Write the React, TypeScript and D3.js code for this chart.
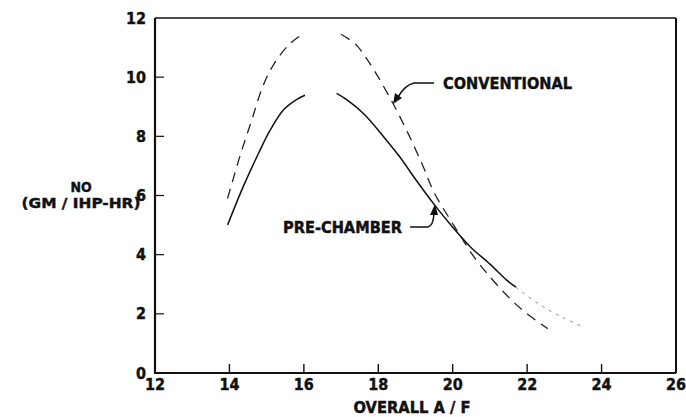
import React from "react";
import * as d3 from "d3";

const xTicks = [12, 14, 16, 18, 20, 22, 24, 26];
const yTicks = [0, 2, 4, 6, 8, 10, 12];

// Conventional (dashed) — null marks the faded gap near the peak
const convX = [13.95, 14.3, 14.6, 14.9, 15.2, 15.6, 15.9, 16.45, 17.0, 17.4, 17.7, 18.0, 18.4, 18.8, 19.2, 19.5, 19.9, 20.2, 20.5, 20.9, 21.45, 21.9, 22.55];
const convY = [5.9, 7.4, 8.55, 9.7, 10.45, 11.1, 11.4, null, 11.45, 11.1, 10.6, 10.0, 9.1, 8.1, 7.0, 6.1, 5.25, 4.65, 4.05, 3.4, 2.63, 2.1, 1.5];

// Pre-chamber (solid)
const preX = [13.95, 14.37, 14.78, 15.09, 15.45, 15.75, 16.03, 16.45, 16.88, 17.1, 17.6, 18.22, 18.58, 19.0, 19.5, 19.95, 20.47, 21.0, 21.45, 21.7];
const preY = [5.0, 6.3, 7.42, 8.2, 8.89, 9.2, 9.39, null, 9.45, 9.28, 8.77, 7.87, 7.3, 6.55, 5.7, 5.0, 4.27, 3.68, 3.14, 2.9];

// Pre-chamber faint tail
const tailX = [21.7, 22.35, 23.0, 23.5];
const tailY = [2.9, 2.3, 1.85, 1.56];

const W = 686;
const H = 417;
const L = 155, R = 676, T = 18, B = 373;
const FONT = "'Liberation Sans Narrow', 'DejaVu Sans Condensed', 'DejaVu Sans', sans-serif";

export default function App() {
  const x = d3.scaleLinear().domain([12, 26]).range([L, R]);
  const y = d3.scaleLinear().domain([0, 12]).range([B, T]);

  type P = { x: number; y: number | null };
  const mk = (xs: number[], ys: (number | null)[]): P[] => xs.map((v, i) => ({ x: v, y: ys[i] }));
  const line = d3
    .line<P>()
    .defined((d) => d.y !== null)
    .x((d) => x(d.x))
    .y((d) => y(d.y as number))
    .curve(d3.curveCatmullRom.alpha(0.5));

  const conv = line(mk(convX, convY)) || "";
  const pre = line(mk(preX, preY)) || "";
  const tail = line(mk(tailX, tailY)) || "";

  const txt = { fill: "#111", stroke: "#111", strokeWidth: 0.4 } as const;

  return (
    <svg
      width={W}
      height={H}
      style={{ position: "absolute", left: 0, top: 0, background: "#fff" }}
      fontFamily={FONT}
      fontWeight="bold"
    >
      <rect x={0} y={0} width={W} height={H} fill="#fff" />
      {/* frame */}
      <path d={`M${L},${T} L${R},${T}`} stroke="#111" strokeWidth={1.6} />
      <path d={`M${R},${T} L${R},${B}`} stroke="#111" strokeWidth={2} />
      <path d={`M${L},${T} L${L},${B} L${R},${B}`} stroke="#111" strokeWidth={2.2} fill="none" />

      {/* x ticks */}
      {xTicks.slice(1, -1).map((t) => (
        <line key={"xt" + t} x1={x(t)} x2={x(t)} y1={B} y2={B - 9} stroke="#111" strokeWidth={1.4} />
      ))}
      {xTicks.map((t) => (
        <text key={"xl" + t} x={x(t)} y={390} textAnchor="middle" fontSize={16} {...txt}>
          {t}
        </text>
      ))}
      {/* y ticks */}
      {yTicks.slice(1, -1).map((t) => (
        <line key={"yt" + t} x1={L} x2={L + 9} y1={y(t)} y2={y(t)} stroke="#111" strokeWidth={1.2} />
      ))}
      {yTicks.map((t) => (
        <text key={"yl" + t} x={146} y={y(t) + 5.5} textAnchor="end" fontSize={16} {...txt}>
          {t}
        </text>
      ))}

      {/* axis titles */}
      <text x={412} y={413} textAnchor="middle" fontSize={15} {...txt} textLength={117} lengthAdjust="spacingAndGlyphs">
        OVERALL A / F
      </text>
      <text x={81} y={192} textAnchor="middle" fontSize={14} {...txt}>
        NO
      </text>
      <text x={81} y={208} textAnchor="middle" fontSize={14} {...txt} textLength={119} lengthAdjust="spacingAndGlyphs">
        (GM / IHP-HR)
      </text>

      {/* curves */}
      <path d={conv} fill="none" stroke="#222" strokeWidth={1.3} strokeDasharray="10 7" />
      <path d={pre} fill="none" stroke="#111" strokeWidth={1.5} />
      <path d={tail} fill="none" stroke="#888" strokeWidth={1} strokeDasharray="3 5" />

      {/* CONVENTIONAL label + arrow */}
      <text x={443} y={89} fontSize={15} {...txt} textLength={129} lengthAdjust="spacingAndGlyphs">
        CONVENTIONAL
      </text>
      <path d="M434,83 L414,83 Q405,85 398,97" fill="none" stroke="#111" strokeWidth={1.5} />
      <path d="M393,104 L395,93 L402,98 Z" fill="#111" />

      {/* PRE-CHAMBER label + arrow */}
      <text x={283} y={233} fontSize={15} {...txt} textLength={119} lengthAdjust="spacingAndGlyphs">
        PRE-CHAMBER
      </text>
      <path d="M410,227 L428,227 Q433,226 434,214" fill="none" stroke="#111" strokeWidth={1.5} />
      <path d="M435,204 L430,215 L438,215 Z" fill="#111" />
    </svg>
  );
}
